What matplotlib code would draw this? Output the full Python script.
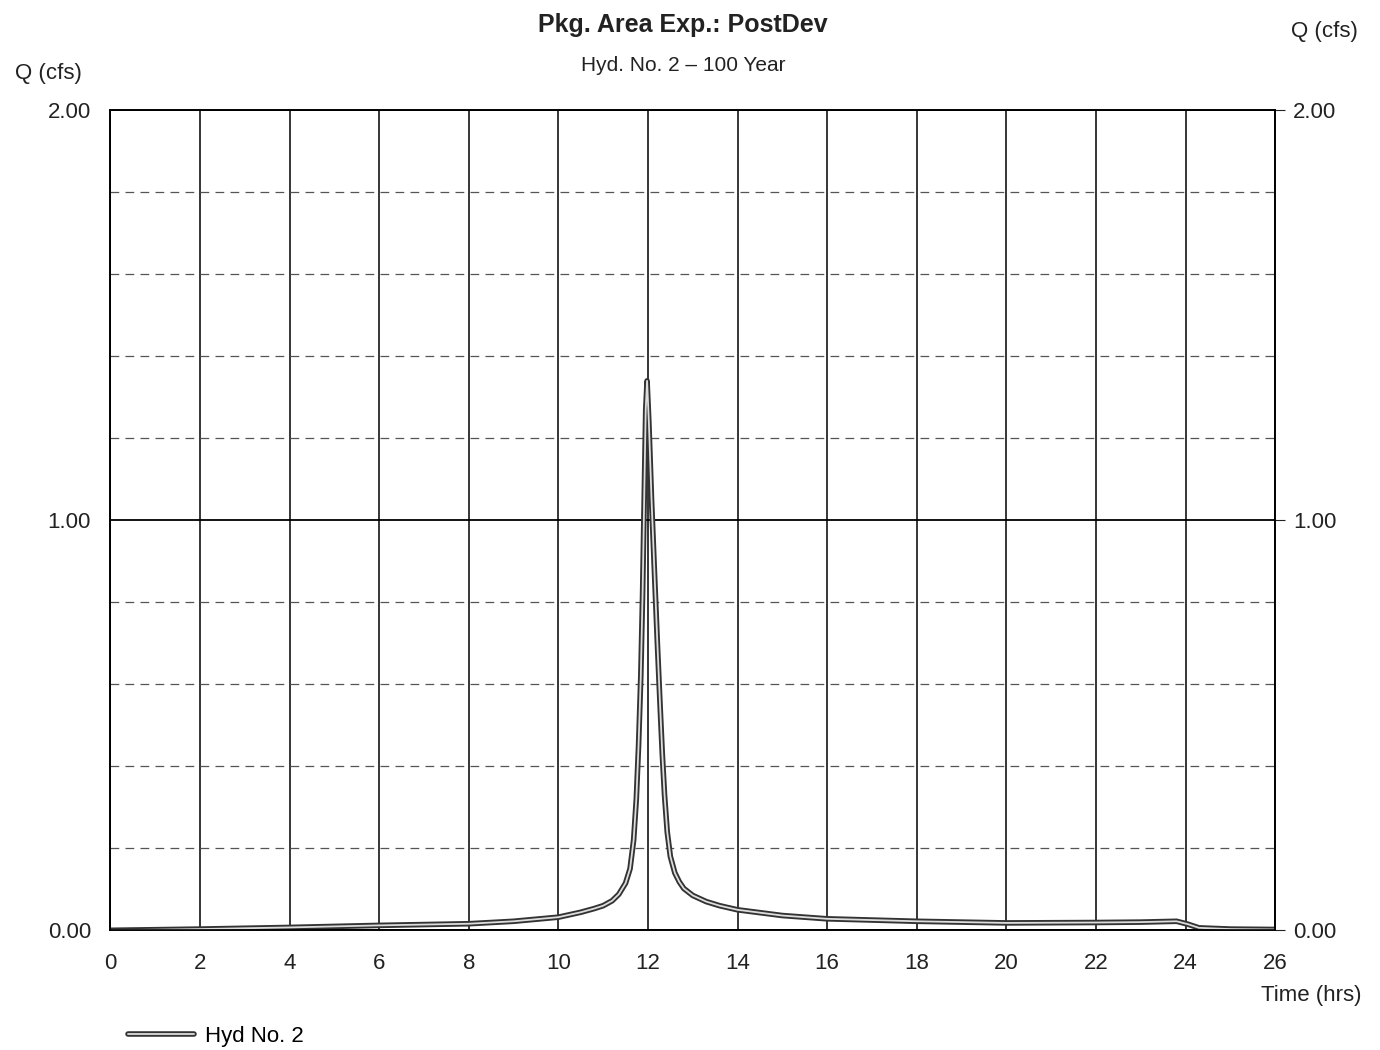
import matplotlib
matplotlib.use("Agg")
import matplotlib.pyplot as plt
import matplotlib.patheffects as pe

plt.rcParams['font.family'] = ['Liberation Sans', 'DejaVu Sans']

time_hrs = [0, 2, 4, 6, 8, 9, 10, 10.5, 10.8, 11, 11.2, 11.35, 11.5, 11.6, 11.68,
            11.74, 11.79, 11.84, 11.88, 11.92, 11.95, 11.98, 12.02, 12.08, 12.15,
            12.21, 12.27, 12.32, 12.37, 12.43, 12.5, 12.6, 12.7, 12.8, 13.0, 13.3,
            13.6, 14, 15, 16, 18, 20, 22, 23, 23.8, 24.05, 24.3, 25, 26]
flow_cfs = [0.0, 0.003, 0.007, 0.012, 0.016, 0.022, 0.032, 0.044, 0.053, 0.06, 0.072,
            0.088, 0.115, 0.15, 0.22, 0.32, 0.45, 0.62, 0.82, 1.08, 1.27, 1.34, 1.24,
            1.05, 0.86, 0.7, 0.55, 0.43, 0.33, 0.24, 0.18, 0.14, 0.118, 0.102, 0.085,
            0.07, 0.06, 0.05, 0.036, 0.028, 0.022, 0.018, 0.019, 0.02, 0.022, 0.015,
            0.006, 0.003, 0.002]
x_ticks = list(range(0, 27, 2))
y_major = [0.0, 1.0, 2.0]
y_labels = ["0.00", "1.00", "2.00"]
y_minor = [0.2, 0.4, 0.6, 0.8, 1.2, 1.4, 1.6, 1.8]

fig = plt.figure(figsize=(13.8, 10.5), dpi=100)
ax = fig.add_axes([0.080, 0.114, 0.844, 0.781])

ax.set_xlim(0, 26)
ax.set_ylim(0, 2)

# grid
for xv in x_ticks:
    ax.axvline(xv, color='black', lw=1.1, zorder=1)
for yv in y_major:
    ax.axhline(yv, color='black', lw=1.3, zorder=1)
for yv in y_minor:
    ax.axhline(yv, color='#555555', lw=0.9, ls=(0, (7, 5)), zorder=1)

line, = ax.plot(time_hrs, flow_cfs, color='#dddddd', lw=1.3, zorder=3,
                label='Hyd No. 2', solid_joinstyle='round', solid_capstyle='round',
                path_effects=[pe.Stroke(linewidth=4.0, foreground='#333333'), pe.Normal()])

ax.set_xticks(x_ticks)
ax.set_xticklabels([str(v) for v in x_ticks])
ax.set_yticks(y_major)
ax.set_yticklabels(y_labels)
ax.tick_params(axis='both', length=0, labelsize=16, colors='#222222')
ax.tick_params(axis='x', pad=16)
ax.tick_params(axis='y', pad=14)

ax2 = ax.twinx()
ax2.set_ylim(0, 2)
ax2.set_yticks(y_major)
ax2.set_yticklabels(y_labels)
ax2.tick_params(axis='y', length=7, labelsize=16, colors='#222222', pad=6)

for a in (ax, ax2):
    for s in a.spines.values():
        s.set_color('black')
        s.set_linewidth(1.2)

fig.text(0.495, 0.976, "Pkg. Area Exp.: PostDev", ha='center', va='center',
         fontsize=18, fontweight='bold', color='#222222')
fig.text(0.495, 0.938, "Hyd. No. 2 \u2013 100 Year", ha='center', va='center',
         fontsize=15, color='#222222')
fig.text(0.035, 0.930, "Q (cfs)", ha='center', va='center', fontsize=16, color='#222222')
fig.text(0.960, 0.970, "Q (cfs)", ha='center', va='center', fontsize=16, color='#222222')
fig.text(0.950, 0.052, "Time (hrs)", ha='center', va='center', fontsize=16, color='#222222')

fig.legend(handles=[line], loc='center left', bbox_to_anchor=(0.078, 0.013),
           frameon=False, fontsize=16, handlelength=3.0, handletextpad=0.5)

fig.savefig("out.png", dpi=100, facecolor='white')
